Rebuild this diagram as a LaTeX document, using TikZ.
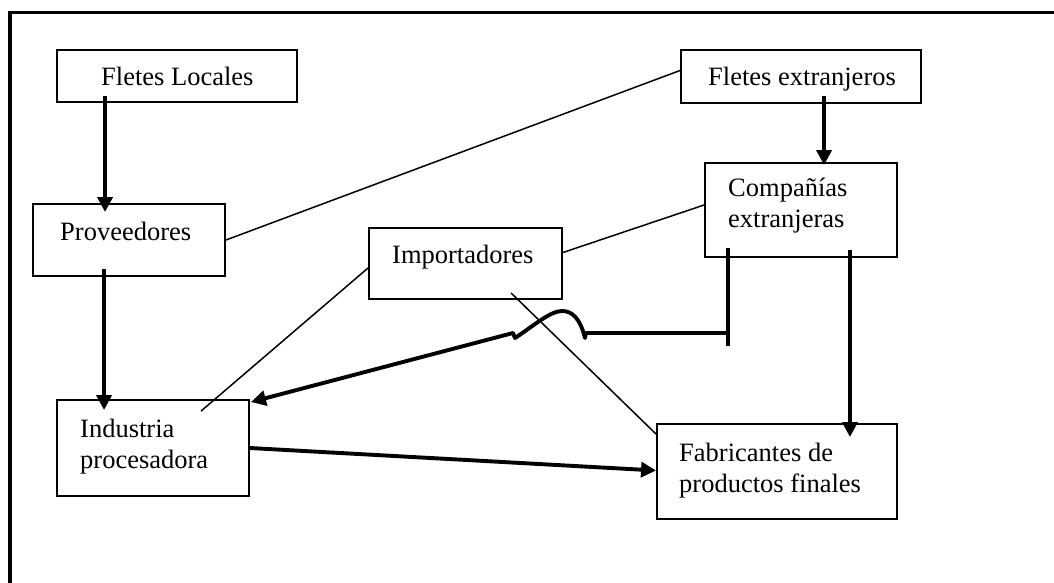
\documentclass[tikz,border=0pt]{standalone}
\usepackage{fontspec}
\setmainfont{Liberation Serif}
\usetikzlibrary{arrows.meta}
\tikzset{
    box/.style={draw,line width=1.9pt,inner sep=0pt},
    txt/.style={inner sep=0pt,anchor=base west,align=left,font=\fontsize{26.5}{31.5}\selectfont},
    thk/.style={line width=3.9pt,-{Triangle[length=15pt,width=15pt]}},
    thn/.style={line width=1.5pt},
}

\begin{document}
\begin{tikzpicture}[x=1pt,y=-1pt]
\useasboundingbox (0,0) rectangle (1054,583);
\draw[line width=3.5pt] (10,590) -- (10,12.3) -- (1060,12.3);
% boxes
\node[box,minimum width=240,minimum height=52] (fletesloc) at (177,76) {};
\node[box,minimum width=240,minimum height=53] (fletesext) at (801,76.5) {};
\node[box,minimum width=192,minimum height=72] (prov) at (129,240) {};
\node[box,minimum width=193,minimum height=71] (imp) at (465.5,263.5) {};
\node[box,minimum width=192,minimum height=94] (comp) at (801,210) {};
\node[box,minimum width=192,minimum height=96] (ind) at (153,448) {};
\node[box,minimum width=240,minimum height=95] (fab) at (777,471.5) {};
% texts (base = last line)
\node[txt] (fletesloc-t) at (101,86) {Fletes Locales};
\node[txt] (fletesext-t) at (708,86) {Fletes extranjeros};
\node[txt] (prov-t) at (60,240) {Proveedores};
\node[txt] (imp-t) at (392,263) {Importadores};
\node[txt] (comp-t) at (728,227.5) {Compañías\\extranjeras};
\node[txt] (ind-t) at (80,468.5) {Industria\\procesadora};
\node[txt] (fab-t) at (679,492.5) {Fabricantes de\\productos finales};
% thick arrows
\draw[thk] ([shift={(49,-7)}]fletesloc.south west) -- ([shift={(73,9)}]prov.north west);
\draw[thk] ([shift={(72,-8)}]prov.south west) -- ([shift={(48,11)}]ind.north west);
\draw[thk] ([shift={(144,-8)}]fletesext.south west) -- ([shift={(120,3)}]comp.north west);
\draw[thk] ([shift={(-48,-8)}]comp.south east) -- ([shift={(-48,14)}]fab.north east);
\draw[thk] (ind.east) -- ([shift={(0,-1)}]fab.west);
\draw[line width=3.9pt] ([shift={(24,-10)}]comp.south west) coordinate (stem) -- ++(0,98);
\draw[thk,line join=round] (stem |- 0,333) -- (586,333) -- (585,338)
    .. controls (580,318) and (572,311) .. (562,311)
    .. controls (550,311) and (532,327) .. (515,338) -- (513,333)
    -- ([shift={(1,3)}]ind.north east);
% thin lines
\draw[thn] (prov.east) -- ([shift={(0,-6)}]fletesext.west);
\draw[thn] ([shift={(0,-11)}]imp.east) -- ([shift={(0,-5)}]comp.west);
\draw[thn] ([shift={(0,4.5)}]imp.west) -- ([shift={(145,12)}]ind.north west);
\draw[thn] ([shift={(143,-7)}]imp.south west) -- ([shift={(0,11)}]fab.north west);
\end{tikzpicture}
\end{document}
